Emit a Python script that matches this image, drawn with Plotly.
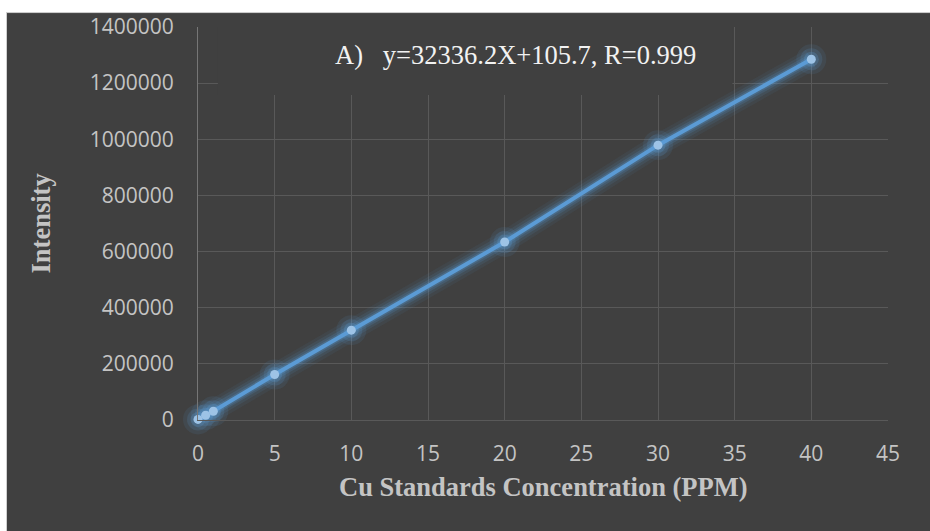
import plotly.graph_objects as go

# Cu calibration standards
concentration_ppm = [0, 0.5, 1, 5, 10, 20, 30, 40]
intensity = [2000, 17000, 31000, 162000, 320000, 634000, 979000, 1285000]

x_ticks = [0, 5, 10, 15, 20, 25, 30, 35, 40, 45]
y_ticks = [0, 200000, 400000, 600000, 800000, 1000000, 1200000, 1400000]

equation_text = "A)\u00a0\u00a0\u00a0y=32336.2X+105.7, R=0.999"
x_title = "Cu Standards Concentration (PPM)"
y_title = "Intensity"

BG = "#404040"
GRID = "#595959"
LINE_BLUE = "#5b9bd5"
MARKER_BLUE = "#9dc3e6"
TICK_GREY = "#c4c4c4"

W, H = 930, 531
L, R, T, B = 198, 42, 25, 111
PW, PH = W - L - R, H - T - B


def px_to_paper_x(px):
    return (px - L) / PW


def px_to_paper_y(py):
    return (H - B - py) / PH


fig = go.Figure()

# soft glow under the line and markers
for width, alpha in [(22, 0.07), (16, 0.11), (11, 0.17), (7, 0.25)]:
    fig.add_trace(go.Scatter(
        x=concentration_ppm, y=intensity, mode="lines",
        line=dict(color=f"rgba(91,155,213,{alpha})", width=width),
        hoverinfo="skip", showlegend=False, cliponaxis=False,
    ))
for size, alpha in [(30, 0.10), (22, 0.16), (15, 0.25)]:
    fig.add_trace(go.Scatter(
        x=concentration_ppm, y=intensity, mode="markers",
        marker=dict(color=f"rgba(91,155,213,{alpha})", size=size, line=dict(width=0)),
        hoverinfo="skip", showlegend=False, cliponaxis=False,
    ))

# calibration line with points
fig.add_trace(go.Scatter(
    x=concentration_ppm, y=intensity, mode="lines+markers",
    line=dict(color=LINE_BLUE, width=4),
    marker=dict(color=MARKER_BLUE, size=9, line=dict(width=0)),
    showlegend=False, cliponaxis=False,
))

shapes = [
    # chart frame on white page
    dict(type="rect", xref="paper", yref="paper",
         x0=px_to_paper_x(6.5), x1=1.2, y0=-0.5, y1=px_to_paper_y(10.5),
         fillcolor=BG, line=dict(color="#cfcfcf", width=1), layer="below"),
    # backdrop behind the equation, hiding the grid there
    dict(type="rect", xref="x", yref="y",
         x0=1.3, x1=34.85, y0=1158000, y1=1500000,
         fillcolor=BG, line=dict(width=0), layer="between"),
]

annotations = [
    dict(text=equation_text, xref="paper", yref="paper",
         x=px_to_paper_x(515), y=px_to_paper_y(53),
         xanchor="center", yanchor="middle", showarrow=False,
         font=dict(family="Liberation Serif", size=26.5, color="#f2f2f2")),
    dict(text=f"<b>{x_title}</b>", xref="paper", yref="paper",
         x=0.5, y=px_to_paper_y(487), xanchor="center", yanchor="middle",
         showarrow=False,
         font=dict(family="Liberation Serif", size=26.5, color=TICK_GREY)),
    dict(text=f"<b>{y_title}</b>", xref="paper", yref="paper",
         x=px_to_paper_x(40), y=0.5, xanchor="center", yanchor="middle",
         textangle=-90, showarrow=False,
         font=dict(family="Liberation Serif", size=26.5, color=TICK_GREY)),
]

fig.update_layout(
    width=W, height=H,
    margin=dict(l=L, r=R, t=T, b=B),
    paper_bgcolor="white",
    plot_bgcolor=BG,
    shapes=shapes,
    annotations=annotations,
    font=dict(family="Open Sans", size=21, color=TICK_GREY),
    xaxis=dict(
        range=[0, 45], tickvals=x_ticks, ticktext=[str(v) for v in x_ticks],
        showgrid=True, gridcolor=GRID, gridwidth=1,
        zeroline=False, showline=True, linecolor=GRID, linewidth=1,
        ticks="", ticklabelstandoff=15,
        tickfont=dict(family="Open Sans", size=21, color=TICK_GREY),
    ),
    yaxis=dict(
        range=[0, 1400000], tickvals=y_ticks, ticktext=[str(v) for v in y_ticks],
        showgrid=True, gridcolor=GRID, gridwidth=1,
        zeroline=False, showline=True, linecolor="#767676", linewidth=1,
        ticks="", ticklabelstandoff=19,
        tickfont=dict(family="Open Sans", size=21, color=TICK_GREY),
    ),
)

fig.write_html("out.html")
